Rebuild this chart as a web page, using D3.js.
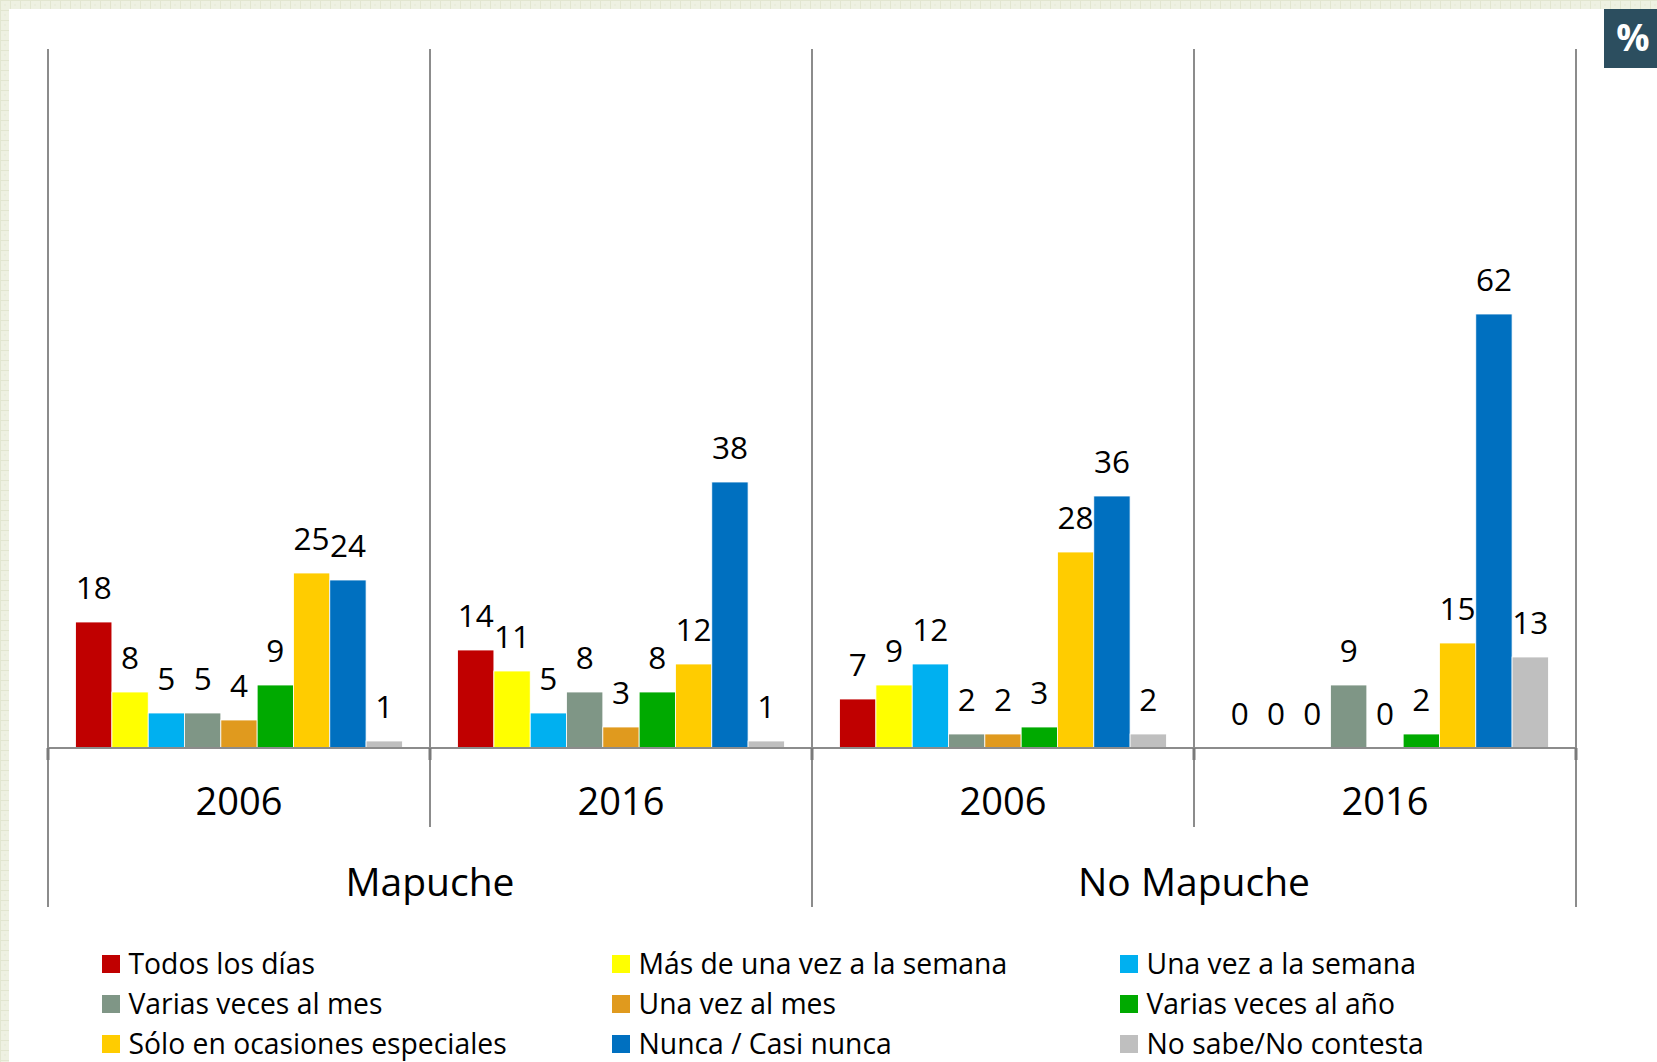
<!DOCTYPE html>
<html>
<head>
<meta charset="utf-8">
<script src="https://cdn.jsdelivr.net/npm/d3@7"></script>
<style>
  html, body { margin: 0; padding: 0; background: #fff; }
  svg { display: block; }
  text { font-family: "Open Sans", "Noto Sans", sans-serif; fill: #000; }
</style>
</head>
<body>
<svg id="chart" width="1657" height="1062"></svg>
<script>
// ---- data ----
const groups = ["Mapuche", "No Mapuche"];
const years = ["2006", "2016"];
const panels = ["Mapuche 2006", "Mapuche 2016", "No Mapuche 2006", "No Mapuche 2016"];
const series = [
  "Todos los días",
  "Más de una vez a la semana",
  "Una vez a la semana",
  "Varias veces al mes",
  "Una vez al mes",
  "Varias veces al año",
  "Sólo en ocasiones especiales",
  "Nunca / Casi nunca",
  "No sabe/No contesta"
];
const colors = ["#C00000", "#FFFF00", "#00B0F0", "#7F9686", "#E09A1E", "#00AA00", "#FFCC00", "#0070C0", "#BFBFBF"];
const mapuche2006 = [18, 8, 5, 5, 4, 9, 25, 24, 1];
const mapuche2016 = [14, 11, 5, 8, 3, 8, 12, 38, 1];
const noMapuche2006 = [7, 9, 12, 2, 2, 3, 28, 36, 2];
const noMapuche2016 = [0, 0, 0, 9, 0, 2, 15, 62, 13];
const panelValues = [mapuche2006, mapuche2016, noMapuche2006, noMapuche2016];
const unitLabel = "%";

// ---- layout ----
const svg = d3.select("#chart");
const W = 1657, H = 1062;

// textured background frame
const defs = svg.append("defs");
const pat = defs.append("pattern").attr("id", "bgpat").attr("width", 10).attr("height", 10)
  .attr("patternUnits", "userSpaceOnUse");
pat.append("rect").attr("width", 10).attr("height", 10).attr("fill", "#EEF1E2");
pat.append("path").attr("d", "M0,0.5H10M0.5,0V10").attr("stroke", "#E2E6D0").attr("stroke-width", 1);
pat.append("circle").attr("cx", 5).attr("cy", 5).attr("r", 0.8).attr("fill", "#E6E9D6");
svg.append("rect").attr("width", W).attr("height", H).attr("fill", "url(#bgpat)");
svg.append("rect").attr("x", 9).attr("y", 9).attr("width", W - 9).attr("height", H - 9).attr("fill", "#fff");

// % box
svg.append("rect").attr("x", 1604).attr("y", 9).attr("width", 60).attr("height", 59).attr("fill", "#2C4E5F");
svg.append("text").attr("x", 1633).attr("y", 51).attr("text-anchor", "middle")
  .style("font-weight", "bold").style("font-size", "37px").style("fill", "#fff").text(unitLabel);

const x0 = d3.scaleBand().domain(panels).range([48, 1576]).padding(0);
const x1 = d3.scaleBand().domain(series).range([0, x0.bandwidth()]).paddingInner(0).paddingOuter(0.76);
const y = d3.scaleLinear().domain([0, 100]).range([748, 48]);

const axisColor = "#8C8C8C";

// bars
panels.forEach((p, pi) => {
  const g = svg.append("g").attr("transform", `translate(${x0(p)},0)`);
  g.selectAll("rect").data(series.map((s, i) => ({ s, v: panelValues[pi][i], c: colors[i] })))
    .join("rect")
    .attr("x", d => x1(d.s))
    .attr("y", d => y(d.v))
    .attr("width", x1.bandwidth())
    .attr("height", d => y(0) - y(d.v))
    .attr("fill", d => d.c)
    .attr("stroke", d => d.v > 0 ? "#fff" : "none")
    .attr("stroke-width", 0.8);
  g.selectAll("text").data(series.map((s, i) => ({ s, v: panelValues[pi][i] })))
    .join("text")
    .attr("x", d => x1(d.s) + x1.bandwidth() / 2)
    .attr("y", d => y(d.v) - 23)
    .attr("text-anchor", "middle")
    .style("font-size", "31.5px")
    .text(d => d.v);
});

// axis lines
const bottomOuter = 907, bottomInner = 827;
svg.append("line").attr("x1", 48).attr("x2", 1576).attr("y1", y(0)).attr("y2", y(0))
  .attr("stroke", axisColor).attr("stroke-width", 2);
const boundaries = [48, x0(panels[1]), x0(panels[2]), x0(panels[3]), 1576];
boundaries.forEach((bx, i) => {
  const outer = (i % 2 === 0);
  svg.append("line").attr("x1", bx).attr("x2", bx).attr("y1", y(100) + 1).attr("y2", outer ? bottomOuter : bottomInner)
    .attr("stroke", axisColor).attr("stroke-width", 2);
  svg.append("line").attr("x1", bx).attr("x2", bx).attr("y1", y(0)).attr("y2", y(0) + 12)
    .attr("stroke", "#7A7A7A").attr("stroke-width", 3);
});

// year labels
panels.forEach((p, pi) => {
  svg.append("text").attr("x", x0(p) + x0.bandwidth() / 2).attr("y", 815)
    .attr("text-anchor", "middle").style("font-size", "38px").text(years[pi % 2]);
});
// group labels
groups.forEach((gName, gi) => {
  const cx = x0(panels[gi * 2]) + x0.bandwidth();
  svg.append("text").attr("x", cx).attr("y", 896)
    .attr("text-anchor", "middle").style("font-size", "39px").text(gName);
});

// legend
const legCols = [102, 612, 1120];
const legRows = [955, 995, 1035];
series.forEach((s, i) => {
  const cx = legCols[i % 3], ry = legRows[Math.floor(i / 3)];
  svg.append("rect").attr("x", cx).attr("y", ry).attr("width", 18).attr("height", 18).attr("fill", colors[i]);
  svg.append("text").attr("x", cx + 26.5).attr("y", ry + 18.5).style("font-size", "28.3px").text(s);
});
</script>
</body>
</html>
